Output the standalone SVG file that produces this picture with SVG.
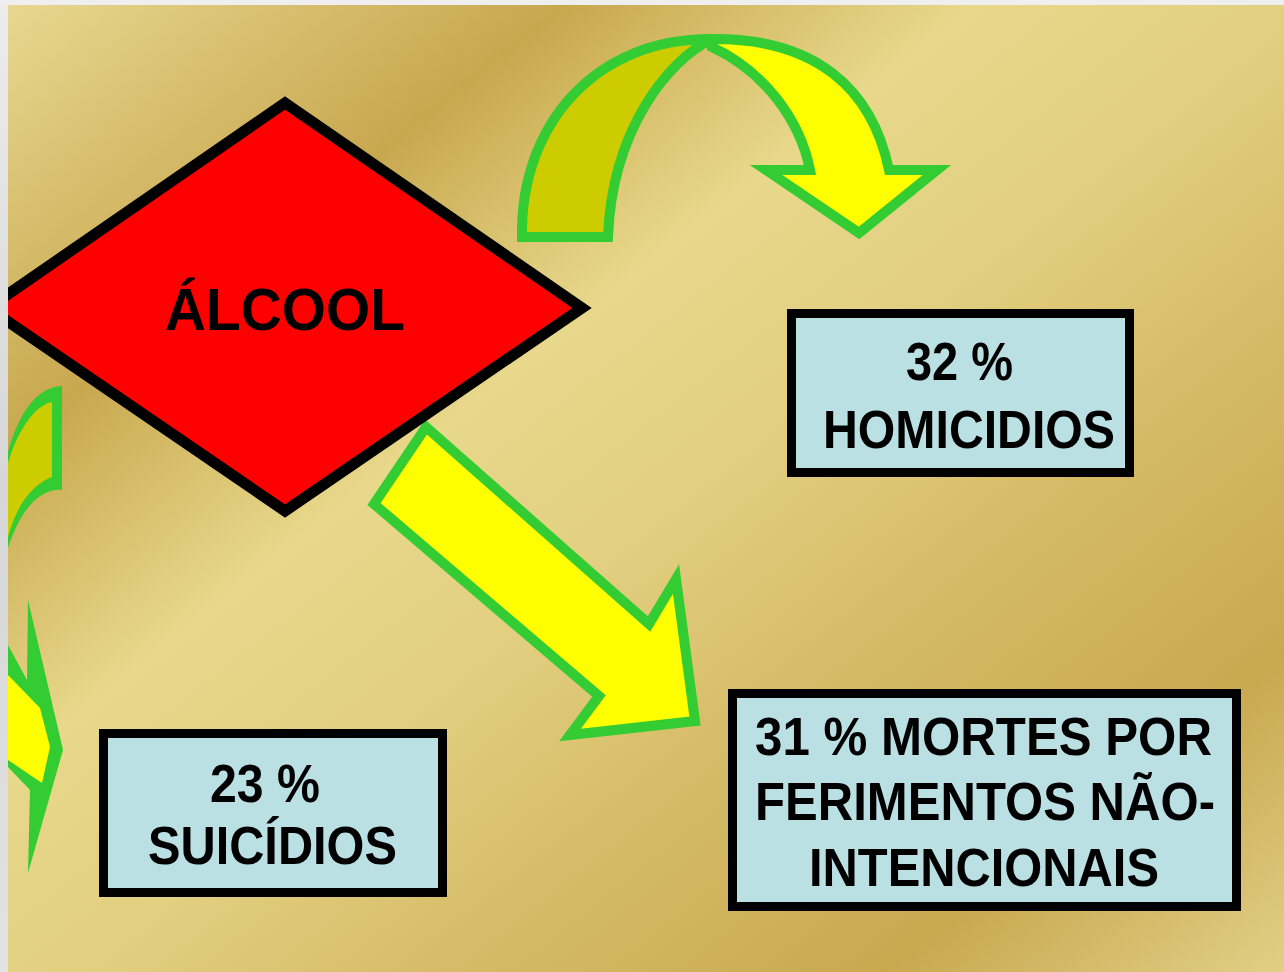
<svg xmlns="http://www.w3.org/2000/svg" width="1284" height="972" viewBox="0 0 1284 972">
<defs>
<linearGradient id="gold" gradientUnits="userSpaceOnUse" x1="0" y1="0" x2="967" y2="1224">
<stop offset="0" stop-color="#e9d892"/>
<stop offset="0.227" stop-color="#c8a84f"/>
<stop offset="0.39" stop-color="#e8d88b"/>
<stop offset="0.52" stop-color="#e2cf80"/>
<stop offset="0.66" stop-color="#d6bc68"/>
<stop offset="0.84" stop-color="#c8a950"/>
<stop offset="1" stop-color="#e2cf86"/>
</linearGradient>
<linearGradient id="grayL" x1="0" y1="0" x2="0" y2="1">
<stop offset="0" stop-color="#ececec"/>
<stop offset="0.5" stop-color="#d6d6d6"/>
<stop offset="1" stop-color="#e2e2e2"/>
</linearGradient>
<style>
.arrow{stroke:#33cc33;stroke-width:10;stroke-linejoin:miter}
.yel{fill:#ffff00}
.olive{fill:#cccc00}
.box{fill:#bae0e4;stroke:#000;stroke-width:9}
.t{font-family:"Liberation Sans",Arial,sans-serif;font-weight:bold;font-size:53px;fill:#000}
</style>
</defs>
<rect x="0" y="0" width="1284" height="972" fill="url(#gold)"/>

<g id="connectors">
<g id="arrow-homicidios">
<path class="arrow olive" d="M 522 237 C 520 125, 595 38, 712 39 C 668 60, 612 130, 608 237 Z"/>
<path class="arrow yel" d="M 712 39 C 815 38, 872 88, 889 170 L 937 170 L 859 233 L 766 170 L 810 170 C 800 120, 765 72, 712 47 Z"/>
</g>
<g id="arrow-mortes">
<polygon class="arrow yel" points="426,427 374,504 599,696 570,735 695,721 676,579 649,624"/>
</g>
<g id="arrow-suicidios">
<path fill="#33cc33" d="M 62 386 L 62 490 C 40 488, 20 510, 8 548 L 8 452 C 18 415, 36 387, 62 386 Z"/>
<path class="olive" d="M 52 402 C 35 405, 18 430, 8 463 L 8 537 C 15 510, 30 485, 52 477 Z"/>
<polygon fill="#33cc33" points="8,645 27,680 28,600 63,750 28,873 30,790 8,767"/>
<polygon class="yel" points="8,675 40,708 50,747 42,783 8,760"/>
</g>
</g>

<g id="node-alcool">
<polygon points="285,103 582,308 285,511 -12,308" fill="#ff0000" stroke="#000" stroke-width="11"/>
<text class="t" x="165" y="330" style="font-size:60px" textLength="240" lengthAdjust="spacingAndGlyphs">ÁLCOOL</text>
</g>

<g id="node-homicidios">
<rect class="box" x="791.5" y="313.5" width="338" height="159"/>
<text class="t" x="906" y="380" textLength="107" lengthAdjust="spacingAndGlyphs">32 %</text>
<text class="t" x="823" y="448" textLength="292" lengthAdjust="spacingAndGlyphs">HOMICIDIOS</text>
</g>

<g id="node-suicidios">
<rect class="box" x="103.5" y="733.5" width="339" height="159"/>
<text class="t" x="210" y="802" textLength="110" lengthAdjust="spacingAndGlyphs">23 %</text>
<text class="t" x="148" y="864" textLength="249" lengthAdjust="spacingAndGlyphs">SUICÍDIOS</text>
</g>

<g id="node-mortes">
<rect class="box" x="732.5" y="693.5" width="504" height="213"/>
<text class="t" x="755" y="755" textLength="457" lengthAdjust="spacingAndGlyphs">31 % MORTES POR</text>
<text class="t" x="755" y="820" textLength="460" lengthAdjust="spacingAndGlyphs">FERIMENTOS NÃO-</text>
<text class="t" x="809" y="886" textLength="350" lengthAdjust="spacingAndGlyphs">INTENCIONAIS</text>
</g>

<rect x="0" y="0" width="8" height="972" fill="url(#grayL)"/>
<rect x="0" y="0" width="1284" height="5" fill="#efefef"/>
</svg>
